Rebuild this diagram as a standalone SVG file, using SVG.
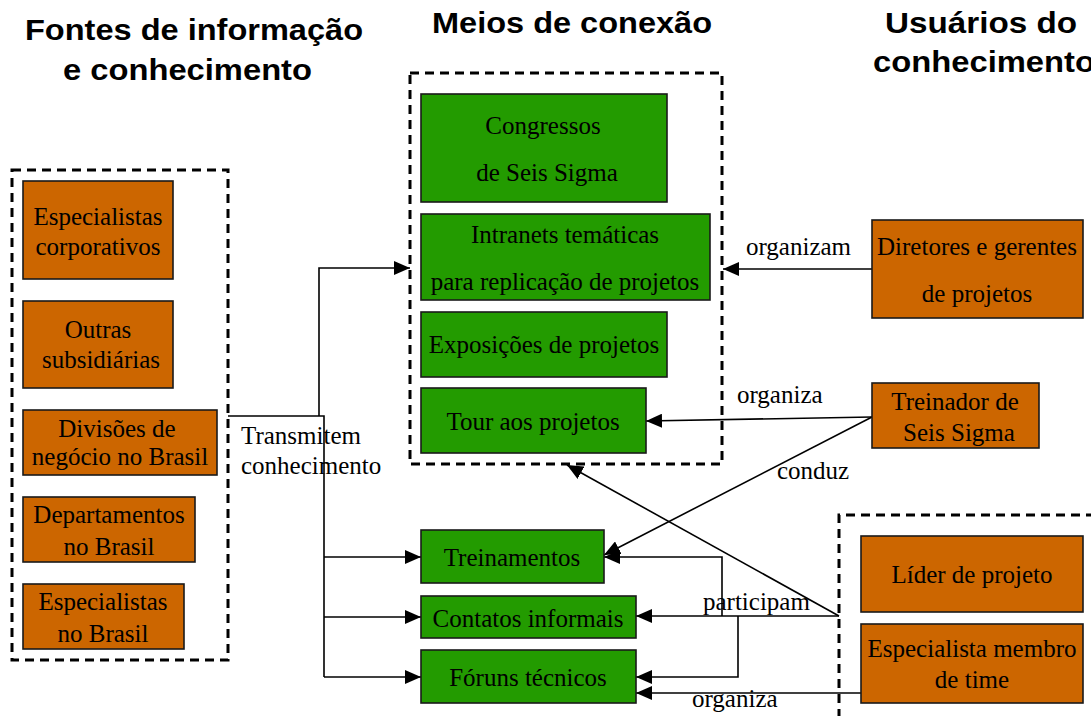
<svg xmlns="http://www.w3.org/2000/svg" width="1091" height="716" viewBox="0 0 1091 716">
  <style>
    .h { font-family: "Liberation Sans", Arial, sans-serif; font-weight: bold; font-size: 29px; fill: #000; }
    .t { font-family: "Liberation Serif", "Times New Roman", serif; font-size: 25px; fill: #000; }
    .c { text-anchor: middle; }
    .org { fill: #CC6600; stroke: #1a1a1a; stroke-width: 1.6; }
    .grn { fill: #239B00; stroke: #1a1a1a; stroke-width: 1.6; }
    .dash { fill: none; stroke: #000; stroke-width: 3; stroke-dasharray: 9 6; }
    .ln { fill: none; stroke: #000; stroke-width: 1.6; }
    .arr { marker-end: url(#ah); }
  </style>
  <defs>
    <marker id="ah" markerUnits="userSpaceOnUse" markerWidth="16" markerHeight="14" viewBox="0 0 16 14" refX="16" refY="7" orient="auto">
      <path d="M0,0 L16,7 L0,14 z" fill="#000"/>
    </marker>
  </defs>
  <rect width="1091" height="716" fill="#fff"/>

  <g id="headings">
    <text class="h" x="25" y="40" textLength="338" lengthAdjust="spacingAndGlyphs">Fontes de informação</text>
    <text class="h" x="63" y="80" textLength="249" lengthAdjust="spacingAndGlyphs">e conhecimento</text>
    <text class="h" x="432" y="33" textLength="280" lengthAdjust="spacingAndGlyphs">Meios de conexão</text>
    <text class="h" x="885" y="33" textLength="192" lengthAdjust="spacingAndGlyphs">Usuários do</text>
    <text class="h" x="873" y="72" textLength="222" lengthAdjust="spacingAndGlyphs">conhecimento</text>
  </g>

  <g id="groups">
    <rect id="grp-fontes" class="dash" x="12" y="170" width="216" height="490"/>
    <rect id="grp-meios" class="dash" x="410" y="73" width="312" height="391"/>
    <path id="grp-usuarios" class="dash" d="M1095,515 H839 V720"/>
  </g>

  <g id="connectors">
    <path class="ln" d="M228,416 H324 V677"/>
    <path class="ln arr" d="M319,416 V268 H410"/>
    <path class="ln arr" d="M324,557 H421"/>
    <path class="ln arr" d="M324,617 H421"/>
    <path class="ln arr" d="M324,677 H421"/>
    <path class="ln arr" d="M872,269 H723"/>
    <path class="ln arr" d="M872,417 L646,421"/>
    <path class="ln arr" d="M872,417 L604,555"/>
    <path class="ln arr" d="M839,616 L567,465"/>
    <path class="ln arr" d="M839,616 H636"/>
    <path class="ln arr" d="M722,616 V557 H604"/>
    <path class="ln arr" d="M738,616 V677 H636"/>
    <path class="ln arr" d="M861,693 H636"/>
    <text class="t" x="241" y="444">Transmitem</text>
    <text class="t" x="241" y="474">conhecimento</text>
    <text class="t" x="746" y="255">organizam</text>
    <text class="t" x="737" y="403">organiza</text>
    <text class="t" x="777" y="479">conduz</text>
    <text class="t" x="703" y="610">participam</text>
    <text class="t" x="692" y="707">organiza</text>
  </g>

  <g id="n-especialistas-corp">
    <rect class="org" x="23" y="181" width="150" height="98"/>
    <text class="t c" x="98" y="225">Especialistas</text>
    <text class="t c" x="98" y="255">corporativos</text>
  </g>
  <g id="n-outras-subsidiarias">
    <rect class="org" x="23" y="301" width="150" height="87"/>
    <text class="t c" x="98" y="338">Outras</text>
    <text class="t c" x="101" y="368">subsidiárias</text>
  </g>
  <g id="n-divisoes">
    <rect class="org" x="23" y="410" width="194" height="65"/>
    <text class="t c" x="117" y="437">Divisões de</text>
    <text class="t c" x="120" y="465">negócio no Brasil</text>
  </g>
  <g id="n-departamentos">
    <rect class="org" x="23" y="497" width="172" height="65"/>
    <text class="t c" x="109" y="523">Departamentos</text>
    <text class="t c" x="109" y="555">no Brasil</text>
  </g>
  <g id="n-especialistas-brasil">
    <rect class="org" x="23" y="584" width="161" height="65"/>
    <text class="t c" x="103" y="610">Especialistas</text>
    <text class="t c" x="103" y="642">no Brasil</text>
  </g>

  <g id="n-congressos">
    <rect class="grn" x="421" y="94" width="246" height="108"/>
    <text class="t c" x="543" y="134">Congressos</text>
    <text class="t c" x="547" y="181">de Seis Sigma</text>
  </g>
  <g id="n-intranets">
    <rect class="grn" x="421" y="214" width="289" height="86"/>
    <text class="t c" x="565" y="243">Intranets temáticas</text>
    <text class="t c" x="565" y="290">para replicação de projetos</text>
  </g>
  <g id="n-exposicoes">
    <rect class="grn" x="421" y="312" width="246" height="65"/>
    <text class="t c" x="544" y="353">Exposições de projetos</text>
  </g>
  <g id="n-tour">
    <rect class="grn" x="421" y="388" width="225" height="65"/>
    <text class="t c" x="533" y="430">Tour aos projetos</text>
  </g>
  <g id="n-treinamentos">
    <rect class="grn" x="421" y="530" width="183" height="53"/>
    <text class="t c" x="512" y="566">Treinamentos</text>
  </g>
  <g id="n-contatos">
    <rect class="grn" x="421" y="596" width="215" height="42"/>
    <text class="t c" x="528" y="627">Contatos informais</text>
  </g>
  <g id="n-foruns">
    <rect class="grn" x="421" y="650" width="215" height="53"/>
    <text class="t c" x="528" y="686">Fóruns técnicos</text>
  </g>

  <g id="n-diretores">
    <rect class="org" x="872" y="220" width="211" height="98"/>
    <text class="t c" x="977" y="255">Diretores e gerentes</text>
    <text class="t c" x="977" y="302">de projetos</text>
  </g>
  <g id="n-treinador">
    <rect class="org" x="872" y="383" width="167" height="65"/>
    <text class="t c" x="955" y="410">Treinador de</text>
    <text class="t c" x="959" y="441">Seis Sigma</text>
  </g>
  <g id="n-lider">
    <rect class="org" x="861" y="536" width="222" height="76"/>
    <text class="t c" x="972" y="583">Líder de projeto</text>
  </g>
  <g id="n-especialista-membro">
    <rect class="org" x="861" y="624" width="222" height="79"/>
    <text class="t c" x="972" y="657">Especialista membro</text>
    <text class="t c" x="972" y="688">de time</text>
  </g>
</svg>
